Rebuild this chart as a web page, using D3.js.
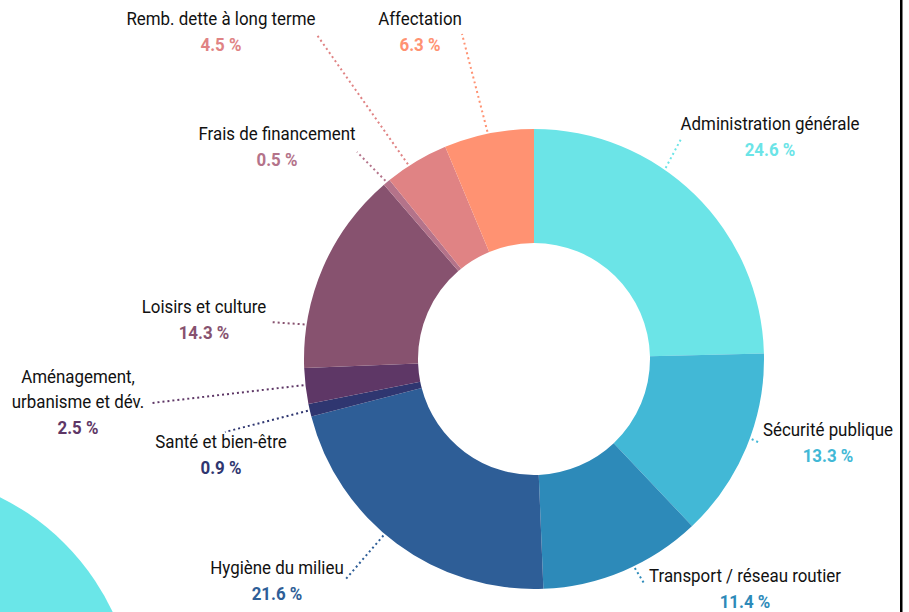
<!DOCTYPE html>
<html>
<head>
<meta charset="utf-8">
<script src="https://cdn.jsdelivr.net/npm/d3@7"></script>
<style>
  html, body { margin: 0; padding: 0; background: #ffffff; }
  svg { display: block; }
  text { font-family: "Roboto", "Noto Sans", sans-serif; }
</style>
</head>
<body>
<svg id="chart" width="909" height="612"></svg>
<script>
// ---- Data ----
const categories = [
  "Administration générale",
  "Sécurité publique",
  "Transport / réseau routier",
  "Hygiène du milieu",
  "Santé et bien-être",
  "Aménagement,\nurbanisme et dév.",
  "Loisirs et culture",
  "Frais de financement",
  "Remb. dette à long terme",
  "Affectation"
];
const values = [24.6, 13.3, 11.4, 21.6, 0.9, 2.5, 14.3, 0.5, 4.5, 6.3];
const valueLabels = ["24.6 %", "13.3 %", "11.4 %", "21.6 %", "0.9 %", "2.5 %", "14.3 %", "0.5 %", "4.5 %", "6.3 %"];

// ---- Styles / layout (kept separate from data) ----
const colors = ["#6be4e7", "#42b8d6", "#2d8ab9", "#2e5e97", "#2f3670", "#5e3766", "#87526f", "#b4738a", "#e08384", "#ff9272"];
// label anchor (center x, name baseline y), leader: fraction along slice, leader end point
const labelLayout = [
  { x: 770, y: 130, t: 0.39, ex: 681, ey: 139 },
  { x: 828, y: 436, t: 0.45, ex: 760, ey: 443 },
  { x: 745, y: 582, t: 0.43, ex: 645, ey: 585 },
  { x: 277, y: 574, t: 0.55, ex: 345, ey: 580 },
  { x: 221, y: 448, t: 0.50, ex: 225, ey: 432 },
  { x: 78,  y: 383, t: 0.53, ex: 152, ey: 403 },
  { x: 204, y: 313, t: 0.21, ex: 270, ey: 322 },
  { x: 277, y: 140, t: 0.50, ex: 357, ey: 152 },
  { x: 221, y: 25,  t: 0.37, ex: 317, ey: 35 },
  { x: 420, y: 25,  t: 0.49, ex: 462, ey: 34 }
];

const W = 909, H = 612;
const cx = 534, cy = 359;
const outerR = 230, innerR = 116;
const fontSize = 19, squeeze = 0.89, lineGap = 25.5;

const svg = d3.select("#chart");

// decorative circle bottom-left
svg.append("circle")
  .attr("cx", -108).attr("cy", 716).attr("r", 244)
  .attr("fill", "#6ae6e8");

// right border line
svg.append("rect")
  .attr("x", 900).attr("y", 0).attr("width", 2.5).attr("height", H)
  .attr("fill", "#000");

const data = categories.map((c, i) => ({ name: c, value: values[i], label: valueLabels[i], color: colors[i], lay: labelLayout[i] }));

const pie = d3.pie().value(d => d.value).sort(null);
const arcs = pie(data);
const arc = d3.arc().innerRadius(innerR).outerRadius(outerR);

const g = svg.append("g").attr("transform", `translate(${cx},${cy})`);
g.selectAll("path.slice")
  .data(arcs)
  .join("path")
  .attr("class", "slice")
  .attr("d", arc)
  .attr("fill", d => d.data.color);

// leader lines
arcs.forEach(a => {
  const L = a.data.lay;
  const ang = a.startAngle + (a.endAngle - a.startAngle) * L.t;
  const r = outerR + 2;
  const sx = Math.sin(ang) * r, sy = -Math.cos(ang) * r;
  g.append("line")
    .attr("x1", sx).attr("y1", sy)
    .attr("x2", L.ex - cx).attr("y2", L.ey - cy)
    .attr("stroke", a.data.color)
    .attr("stroke-width", 2)
    .attr("stroke-dasharray", "2 3");
});

// labels
const labels = svg.append("g");
data.forEach(d => {
  const L = d.lay;
  const lines = d.name.split("\n");
  const grp = labels.append("g").attr("transform", `translate(${L.x},${L.y}) scale(${squeeze},1)`);
  lines.forEach((ln, k) => {
    grp.append("text")
      .attr("x", 0).attr("y", k * lineGap)
      .attr("text-anchor", "middle")
      .attr("font-size", fontSize)
      .attr("fill", "#111")
      .text(ln);
  });
  grp.append("text")
    .attr("x", 0).attr("y", lines.length * lineGap + 0.5)
    .attr("text-anchor", "middle")
    .attr("font-size", fontSize)
    .attr("font-weight", "bold")
    .attr("fill", d.color)
    .text(d.label);
});
</script>
</body>
</html>
